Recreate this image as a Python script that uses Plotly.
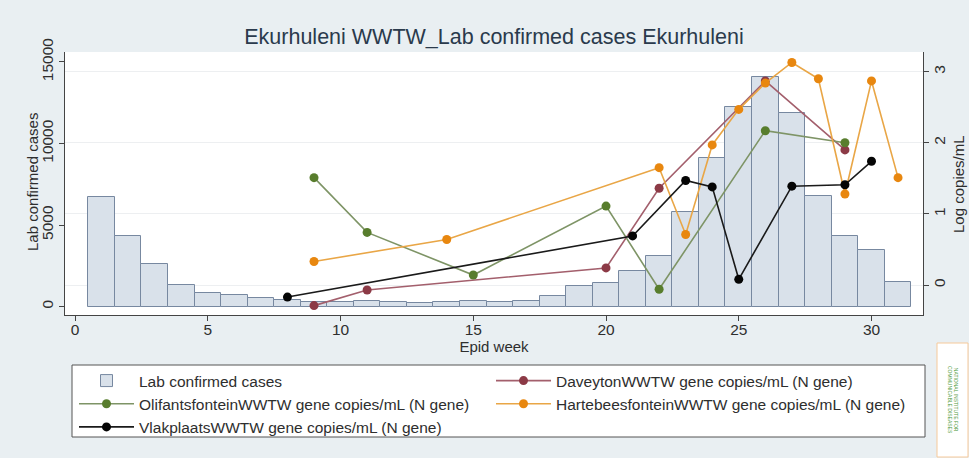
import plotly.graph_objects as go

# ---------------- data ----------------
weeks = list(range(1, 32))
lab_cases = [6700, 4320, 2600, 1300, 850, 720, 500, 380, 300, 300,
             340, 250, 200, 280, 340, 280, 320, 640, 1230, 1420,
             2180, 3100, 5780, 9130, 12220, 14100, 11850, 6800, 4320, 3470, 1520]

daveyton_wk = [9, 11, 20, 22, 26, 29]
daveyton_val = [-0.29, -0.07, 0.24, 1.36, 2.87, 1.90]

olifants_wk = [9, 11, 15, 20, 22, 26, 29]
olifants_val = [1.51, 0.74, 0.14, 1.11, -0.06, 2.17, 2.00]

hartebees_wk = [9, 14, 22, 23, 24, 25, 26, 27, 28, 29, 30, 31]
hartebees_val = [0.33, 0.64, 1.65, 0.71, 1.97, 2.47, 2.84, 3.13, 2.90, 1.28, 2.87, 1.51]

vlak_wk = [8, 21, 23, 24, 25, 27, 29, 30]
vlak_val = [-0.17, 0.69, 1.47, 1.38, 0.08, 1.39, 1.41, 1.74]

x_ticks = [0, 5, 10, 15, 20, 25, 30]
y_ticks = [0, 5000, 10000, 15000]
y_ticklabels = ["0", "5000", "10000", "15000"]
y2_ticks = [0, 1, 2, 3]

FONT = "Liberation Sans, Arial, sans-serif"
TXT = "#2e2e2e"

W, H = 969, 458
L, R, T, B = 65, 46, 52, 143
PW, PH = W - L - R, H - T - B


def px_x(x):
    return (x - L) / PW


def px_y(y):
    return (H - B - y) / PH


fig = go.Figure()

fig.add_trace(go.Bar(
    x=weeks, y=lab_cases, width=1.0, name="Lab confirmed cases",
    marker=dict(color="#D9E1EA", line=dict(color="#7788A0", width=1)),
    yaxis="y",
))

series = [
    ("DaveytonWWTW gene copies/mL (N gene)", daveyton_wk, daveyton_val, "#A35F6C", "#8C3A46"),
    ("OlifantsfonteinWWTW gene copies/mL (N gene)", olifants_wk, olifants_val, "#7E9466", "#587D2D"),
    ("HartebeesfonteinWWTW gene copies/mL (N gene)", hartebees_wk, hartebees_val, "#E9A646", "#E8870F"),
    ("VlakplaatsWWTW gene copies/mL (N gene)", vlak_wk, vlak_val, "#1a1a1a", "#050505"),
]
for name, xs, ys, lc, mc in series:
    fig.add_trace(go.Scatter(
        x=xs, y=ys, name=name, mode="lines+markers", yaxis="y2",
        line=dict(color=lc, width=1.6),
        marker=dict(color=mc, size=9),
    ))

fig.update_layout(
    width=W, height=H,
    margin=dict(l=L, r=R, t=T, b=B, autoexpand=False),
    paper_bgcolor="#E9EFF2",
    plot_bgcolor="#FFFFFF",
    font=dict(family=FONT, size=15.5, color=TXT),
    title=dict(text="Ekurhuleni WWTW_Lab confirmed cases Ekurhuleni",
               x=0.5, xref="paper", y=1 - 36 / H, yanchor="middle",
               font=dict(size=21.5, color="#2A3A4C", family=FONT)),
    bargap=0,
    xaxis=dict(range=[-0.38, 31.94], tickvals=x_ticks, showgrid=False,
               zeroline=False, showline=True, linecolor="#444", linewidth=1,
               ticks="outside", ticklen=5, tickcolor="#444", automargin=False,
               ticklabelstandoff=-5, tickfont=dict(size=15.5),
               title=dict(text="Epid week", standoff=1, font=dict(size=15))),
    yaxis=dict(range=[-521, 15613], tickvals=y_ticks, ticktext=y_ticklabels,
               showgrid=False, automargin=False, tickfont=dict(size=15.5),
               zeroline=False, showline=True, linecolor="#444", linewidth=1,
               ticks="outside", ticklen=5, tickcolor="#444", tickangle=-90),
    yaxis2=dict(range=[-0.422, 3.277], tickvals=y2_ticks, overlaying="y", side="right",
                showgrid=True, gridcolor="#EDEFF1", gridwidth=1, automargin=False,
                zeroline=False, showline=True, linecolor="#444", linewidth=1,
                ticks="outside", ticklen=5, tickcolor="#444", tickangle=-90,
                ticklabelstandoff=-3, tickfont=dict(size=15.5)),
    legend=dict(orientation="h", x=px_x(74), xanchor="left", y=px_y(364), yanchor="top",
                bgcolor="rgba(0,0,0,0)", borderwidth=0,
                entrywidth=347, font=dict(size=15.5, color=TXT),
                traceorder="normal", itemwidth=55),
    showlegend=True,
)

# legend frame
fig.add_shape(type="rect", xref="paper", yref="paper",
              x0=px_x(72), x1=px_x(925), y0=px_y(437), y1=px_y(365),
              line=dict(color="#555", width=1), fillcolor="#FFFFFF", layer="below")

# axis titles
fig.add_annotation(xref="paper", yref="paper", x=px_x(32), y=px_y(182),
                   xanchor="center", yanchor="middle",
                   text="Lab confirmed cases", textangle=-90, showarrow=False,
                   font=dict(size=15, color=TXT, family=FONT))
fig.add_annotation(xref="paper", yref="paper", x=px_x(958), y=px_y(184),
                   xanchor="center", yanchor="middle",
                   text="Log copies/mL", textangle=-90, showarrow=False,
                   font=dict(size=15, color=TXT, family=FONT))

# logo box (bottom right)
fig.add_shape(type="rect", xref="paper", yref="paper",
              x0=px_x(937), x1=px_x(968), y0=px_y(457), y1=px_y(343),
              line=dict(color="#F6C99A", width=1), fillcolor="#FFFFFF")
fig.add_annotation(xref="paper", yref="paper", x=px_x(953), y=px_y(400),
                   xanchor="center", yanchor="middle",
                   text="NATIONAL INSTITUTE FOR<br>COMMUNICABLE DISEASES",
                   textangle=90, showarrow=False,
                   font=dict(size=5, color="#4E9A3A", family=FONT))

fig.write_html("out.html", config={"displayModeBar": False},
               post_script="document.body.style.margin='0';")
